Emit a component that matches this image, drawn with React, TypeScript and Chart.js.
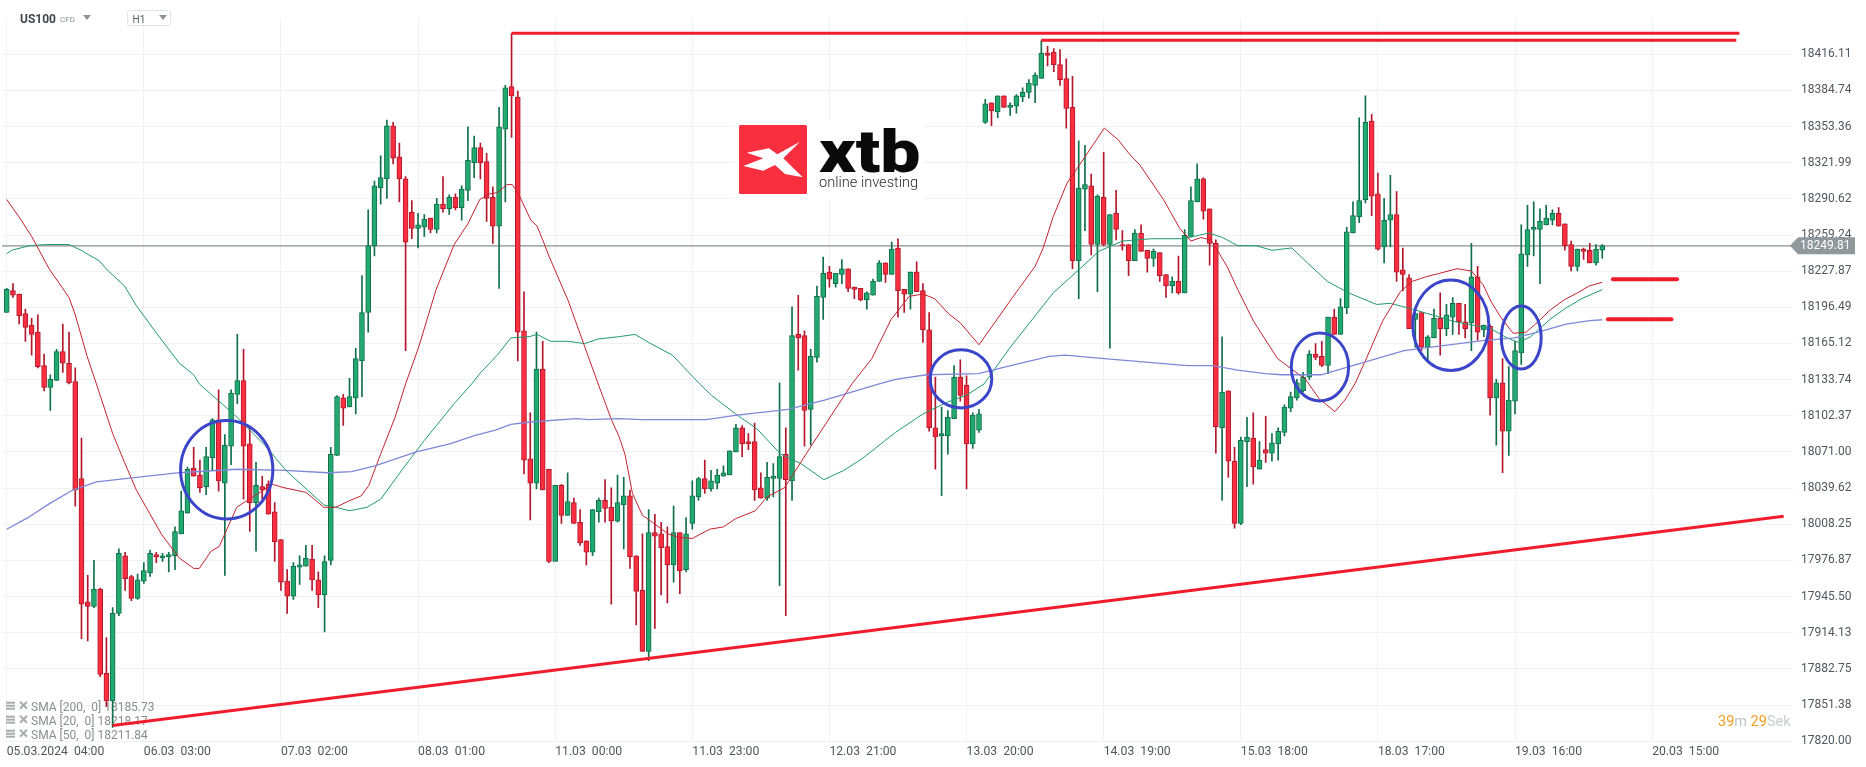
import React, { useEffect, useRef } from "react";
import { Chart, registerables } from "chart.js";

Chart.register(...registerables);

const opens = [18192,18211,18208,18191,18181,18175,18146,18127,18133,18158,18148,18132,18048,17941,17937,17952,17879,17855,17931,17981,17963,17944,17959,17966,17982,17979,17980,17981,18000,18018,18057,18051,18041,18066,18099,18044,18076,18121,18133,18078,18027,18041,18043,18019,17995,17959,17946,17971,17972,17978,17960,17947,17977,18068,18118,18110,18118,18150,18192,18250,18300,18308,18354,18327,18308,18279,18265,18266,18274,18264,18286,18282,18292,18283,18298,18322,18335,18323,18292,18267,18351,18388,18379,18176,18065,18044,18143,18056,17976,18042,18016,18027,18010,17994,17984,18019,18029,18023,18011,18025,18033,17981,17951,17898,18001,18000,17989,17973,18001,17969,18009,18032,18048,18039,18044,18050,18051,18071,18092,18080,18080,18040,18031,18048,18048,18069,18046,18173,18172,18108,18153,18205,18227,18217,18225,18230,18214,18213,18203,18207,18219,18235,18225,18248,18212,18208,18227,18211,18177,18092,18085,18085,18100,18136,18129,18078,18090,18357,18374,18366,18380,18370,18371,18379,18383,18389,18395,18417,18418,18407,18395,18370,18237,18299,18302,18251,18292,18251,18278,18251,18251,18237,18261,18246,18239,18244,18225,18215,18219,18209,18258,18288,18308,18282,18252,18092,18124,18063,18009,18080,18083,18056,18073,18070,18078,18088,18109,18118,18124,18136,18156,18154,18146,18188,18173,18196,18261,18275,18290,18358,18295,18249,18272,18277,18229,18222,18186,18192,18162,18170,18187,18178,18188,18200,18184,18183,18223,18177,18180,18118,18131,18089,18115,18157,18242,18264,18264,18268,18272,18278,18269,18251,18232,18247,18246,18235,18246];
const highs = [18213,18217,18208,18195,18187,18190,18156,18138,18160,18182,18175,18144,18083,17964,17977,17953,17910,17936,17987,17984,17964,17965,17975,17986,17984,17983,17984,18006,18037,18058,18075,18064,18075,18100,18125,18086,18125,18173,18160,18092,18062,18050,18046,18027,17995,17969,17975,17981,17990,17990,17967,17981,18075,18120,18121,18135,18161,18224,18281,18306,18328,18359,18357,18339,18310,18289,18278,18277,18274,18291,18310,18294,18295,18302,18353,18345,18339,18330,18301,18370,18389,18434,18384,18210,18105,18175,18167,18056,17976,18043,18053,18031,18021,17994,18021,18031,18047,18040,18051,18049,18038,17981,18000,18021,18017,18010,18006,18024,18001,18014,18046,18049,18064,18055,18056,18059,18072,18095,18094,18087,18096,18053,18062,18061,18131,18092,18197,18207,18176,18160,18215,18240,18232,18226,18238,18230,18214,18213,18210,18221,18237,18235,18253,18256,18212,18227,18236,18217,18192,18136,18110,18107,18146,18151,18137,18105,18108,18377,18374,18380,18380,18374,18381,18387,18394,18400,18428,18423,18421,18420,18412,18397,18341,18337,18312,18294,18331,18277,18298,18263,18251,18264,18268,18246,18247,18244,18225,18223,18241,18264,18301,18321,18309,18282,18255,18171,18124,18075,18084,18101,18105,18080,18102,18087,18092,18112,18123,18134,18140,18159,18165,18167,18188,18195,18204,18266,18288,18361,18380,18364,18313,18291,18311,18297,18248,18225,18192,18192,18172,18195,18209,18199,18205,18200,18199,18252,18232,18181,18181,18134,18152,18145,18167,18268,18285,18288,18282,18285,18281,18283,18269,18254,18247,18248,18252,18251,18251];
const lows = [18192,18205,18182,18167,18155,18144,18124,18107,18133,18140,18130,18024,17909,17907,17936,17876,17850,17832,17929,17951,17942,17943,17957,17963,17975,17976,17967,17969,18000,18018,18050,18036,18034,18055,18037,17964,18060,18113,18030,18002,17985,18030,18017,17976,17951,17931,17943,17956,17972,17951,17936,17915,17973,18068,18094,18110,18104,18119,18175,18241,18286,18291,18321,18288,18159,18256,18248,18258,18261,18261,18279,18277,18281,18272,18289,18309,18308,18271,18252,18213,18288,18344,18150,18052,18012,18039,18038,17975,17976,18009,18016,18009,17990,17973,17981,18010,18010,17939,18010,17987,17970,17921,17898,17890,17918,17947,17940,17958,17948,17967,18004,18029,18035,18037,18039,18050,18051,18071,18067,18073,18029,18031,18029,18032,17955,17929,18029,18142,18076,18077,18149,18186,18214,18214,18217,18210,18204,18202,18195,18207,18219,18218,18225,18188,18192,18195,18210,18166,18089,18056,18033,18069,18100,18115,18039,18074,18088,18356,18354,18361,18370,18363,18365,18375,18378,18374,18395,18406,18401,18389,18352,18230,18204,18263,18242,18210,18250,18161,18255,18246,18224,18237,18245,18227,18232,18219,18205,18209,18208,18209,18258,18288,18273,18233,18070,18029,18049,18005,18008,18041,18043,18056,18062,18063,18064,18085,18106,18116,18123,18134,18151,18145,18139,18173,18173,18191,18261,18270,18287,18276,18246,18235,18249,18219,18211,18178,18162,18159,18151,18170,18155,18172,18173,18173,18170,18159,18168,18171,18103,18077,18053,18068,18104,18147,18232,18241,18217,18268,18268,18267,18246,18228,18228,18238,18235,18233,18239];
const closes = [18212,18207,18189,18179,18173,18145,18127,18134,18158,18148,18131,18038,17939,17937,17952,17878,17855,17931,17983,17961,17944,17960,17968,17983,17980,17981,17982,18002,18020,18056,18050,18040,18067,18099,18046,18077,18122,18133,18076,18027,18042,18038,18017,17993,17958,17946,17972,17973,17979,17960,17947,17976,18069,18119,18109,18119,18152,18192,18250,18302,18309,18354,18326,18308,18253,18265,18268,18273,18264,18286,18282,18292,18283,18299,18324,18335,18322,18291,18267,18353,18387,18380,18175,18064,18044,18143,18038,17976,18042,18016,18028,18009,17992,17984,18021,18029,18022,18011,18027,18033,17980,17950,17898,18001,17998,17988,17973,18001,17968,18000,18033,18048,18039,18046,18051,18053,18072,18092,18078,18078,18038,18031,18049,18050,18067,18047,18172,18170,18107,18154,18206,18226,18221,18226,18230,18213,18212,18203,18209,18219,18235,18225,18247,18211,18208,18227,18210,18177,18092,18084,18087,18101,18136,18120,18078,18103,18104,18373,18367,18380,18370,18372,18380,18383,18391,18398,18417,18415,18407,18394,18369,18237,18300,18303,18251,18293,18251,18277,18264,18250,18237,18261,18245,18239,18245,18224,18215,18219,18209,18259,18289,18308,18280,18252,18093,18123,18063,18009,18081,18084,18058,18064,18070,18079,18089,18110,18119,18131,18136,18156,18153,18146,18188,18173,18197,18262,18276,18289,18357,18293,18247,18272,18277,18227,18225,18178,18191,18162,18171,18187,18178,18190,18200,18184,18178,18223,18175,18181,18118,18131,18089,18116,18159,18243,18264,18266,18271,18274,18278,18267,18250,18232,18247,18245,18235,18247,18250];

const sma20Index = [0,2.1,4,6.8,10,11,12.9,14.4,17,18.9,20.8,24.9,27.7,30,30.9,32.8,34.1,36.9,39.5,42.6,44.5,48,50.9,52.8,54.7,56.9,58.1,59.7,62.3,64,66.1,68.9,71.8,74,75.9,77.5,78.7,80.3,81.1,82.2,84.1,85.1,86,87,90.1,93.3,94.9,97.1,98.2,99.2,100.4,102,103.6,106.1,107.7,110,112.8,115,116.9,120.1,122,124.8,126.1,129.3,135.6,138.8,141.9,144.8,147,148.9,151.1,153,156,161.9,165,166.3,167.9,170.1,173,176.1,178.3,180.2,181.8,185.6,188.2,190,191.6,193.2,195.8,197.5,200.1,203.9,208.4,210.6,213.1,214.7,216.3,217.9,220.7,223.6,225.5,227.7,229.9,232.7,235,236.9,238.1,239.7,241.7,243.8,245.7,247.6,249.9,252,253.9,256];
const sma20Values = [18290,18274,18258,18230,18205,18190,18154,18130,18087,18062,18038,17999,17979,17970,17970,17985,17989,18023,18032,18043,18040,18036,18023,18023,18028,18033,18042,18065,18101,18130,18162,18212,18251,18269,18290,18295,18296,18303,18303,18294,18272,18267,18255,18241,18202,18154,18130,18098,18085,18069,18035,18016,18010,18000,17997,17996,18004,18006,18013,18020,18032,18040,18051,18078,18130,18152,18186,18206,18208,18204,18191,18183,18164,18209,18232,18248,18275,18304,18327,18352,18342,18329,18320,18290,18265,18254,18257,18255,18232,18212,18184,18152,18134,18117,18106,18116,18130,18149,18184,18210,18219,18223,18226,18230,18228,18216,18202,18188,18174,18175,18184,18194,18203,18209,18215,18218.17];

const sma50Index = [0,0.8,3.7,6.5,10,11.9,14.8,16.3,18.9,20.8,23.9,27.7,30,30.9,36.6,41.4,44.8,50.9,52.8,55,57.8,60,63.5,67,71.8,74.6,75.9,78.7,80.9,83.8,85.1,87.3,90.1,92.7,94.9,98.2,100.8,103,106.8,111.2,113.1,117.2,120.4,124.2,127.4,131.1,134.3,137.2,142.6,147,150.8,153.9,156.8,160.9,164.7,167.9,172,175.2,179,183.7,188.8,192.9,195.1,197.5,200.4,203,206.2,208.7,211.9,215.3,219.8,222,225.5,232.4,238.1,240.7,242.6,244.5,247.6,250.2,252.7,256];
const sma50Values = [18243,18246,18250,18251,18251,18246,18237,18228,18215,18198,18175,18148,18138,18130,18103,18077,18055,18025,18023,18020,18023,18030,18056,18081,18113,18130,18139,18155,18170,18171,18173,18167,18167,18165,18169,18171,18173,18166,18155,18130,18120,18103,18091,18069,18061,18047,18055,18065,18088,18104,18114,18120,18130,18161,18187,18209,18229,18245,18254,18256,18256,18261,18257,18250,18250,18246,18248,18235,18219,18209,18199,18200,18195,18184,18178,18170,18166,18171,18186,18196,18204,18211.84];

const sma200Index = [0,3.4,6.8,10.6,14.4,20.8,27.7,36.9,44.6,51.5,55.3,59.1,65.7,71.1,74.9,78.4,80.9,84,91.4,93.3,98.2,102,112.2,117.2,125.4,131.2,140,142.6,147.6,155.9,161.9,167.3,169.8,176.1,189.4,193.5,197.5,202,204.6,210.9,214.7,219.1,224.2,233,237.5,241.9,245.7,250.2,254,256];
const sma200Values = [18004,18014,18026,18038,18045,18049,18053,18056,18055,18053,18054,18059,18071,18078,18085,18090,18095,18097,18100,18099,18100,18099,18099,18103,18108,18116,18130,18134,18138,18139,18147,18154,18155,18152,18146,18146,18142,18139,18138,18138,18144,18151,18159,18165,18168,18170,18175,18182,18185,18185.73];

const xTickIndex = [0,22,44,66,88,110,132,154,176,198,220,242,264];
const xTickLabels = ["05.03.2024  04:00","06.03  03:00","07.03  02:00","08.03  01:00","11.03  00:00","11.03  23:00","12.03  21:00","13.03  20:00","14.03  19:00","15.03  18:00","18.03  17:00","19.03  16:00","20.03  15:00"];
const yTicks = [18416.11,18384.74,18353.36,18321.99,18290.62,18259.24,18227.87,18196.49,18165.12,18133.74,18102.37,18071.00,18039.62,18008.25,17976.87,17945.50,17914.13,17882.75,17851.38,17820.00];

const lastPrice = 18249.81;
const legendRows = ["SMA [200,  0] 18185.73","SMA [20,  0] 18218.17","SMA [50,  0] 18211.84"];
const resistanceA = [{ x: 81, y: 18434.3 }, { x: 278, y: 18434.3 }];
const resistanceB = [{ x: 166, y: 18428.3 }, { x: 277.5, y: 18428.3 }];
const supportTrend = [{ x: 17, y: 17833.7 }, { x: 285.1, y: 18015.3 }];
const stubA = [{ x: 257.7, y: 18220.9 }, { x: 268, y: 18220.9 }];
const stubB = [{ x: 256.9, y: 18186.2 }, { x: 267.1, y: 18186.2 }];
const circles = [
  { i: 35.3, p: 18055.6, ri: 7.4, rp: 42.7 },
  { i: 153.1, p: 18134.4, ri: 4.95, rp: 25.2 },
  { i: 210.7, p: 18144.8, ri: 4.6, rp: 29.5 },
  { i: 231.7, p: 18181, ri: 6.1, rp: 39.3 },
  { i: 243, p: 18170.3, ri: 3.2, rp: 27.4 },
];

const X_MIN = -0.754;
const X_MAX = 286.6;
const Y_MIN = 17820;
const Y_MAX = 18447.5;

const UP = "#22a96f";
const UP_EDGE = "#0f6f4b";
const DOWN = "#f92f40";
const DOWN_EDGE = "#b3172b";
const FONT = "Roboto";

const pairs = (xs: number[], ys: number[]) => xs.map((x, k) => ({ x, y: ys[k] }));

const overlay = {
  id: "overlay",
  beforeDatasetsDraw(chart: any) {
    const c = chart.ctx;
    c.save();
    c.fillStyle = "#ffffff";
    c.fillRect(734, 121, 190, 78);
    c.fillStyle = "#f92f40";
    c.beginPath();
    c.roundRect(739, 125, 68, 69, 1.5);
    c.fill();
    c.fillStyle = "#ffffff";
    c.beginPath();
    const shape = [[746.7,152.7],[769,148.3],[777.3,154.3],[800,141.7],[783.3,158.3],[802.7,177.3],[785,174],[775,165],[763.3,170.7],[743.3,166],[763.3,158.3]];
    shape.forEach(([x, y], k) => (k ? c.lineTo(x, y) : c.moveTo(x, y)));
    c.closePath();
    c.fill();
    c.fillStyle = "#0a0a0a";
    c.textBaseline = "alphabetic";
    c.textAlign = "left";
    c.save();
    c.translate(819, 171.5);
    c.scale(1.19, 1);
    c.font = `900 60px ${FONT}`;
    c.fillText("xtb", 0, 0);
    c.restore();
    c.fillStyle = "#2b2b2b";
    c.font = `300 14.6px ${FONT}`;
    c.textBaseline = "middle";
    c.fillText("online investing", 819, 183.5);

    c.font = `12px ${FONT}`;
    c.textBaseline = "middle";
    legendRows.forEach((t, k) => {
      const y = 707.7 + k * 14;
      c.fillStyle = "#8a8d90";
      c.fillText(t, 31, y);
      c.fillStyle = "#a9acae";
      c.fillRect(6, y - 6, 9, 2);
      c.fillRect(6, y - 3, 9, 2);
      c.fillRect(6, y, 9, 2);
      c.strokeStyle = "#a9acae";
      c.lineWidth = 2;
      c.beginPath();
      c.moveTo(20, y - 6);
      c.lineTo(27, y + 1);
      c.moveTo(27, y - 6);
      c.lineTo(20, y + 1);
      c.stroke();
    });

    c.font = `14.5px ${FONT}`;
    let x = 1718;
    [["39", "#f59d1e"], ["m ", "#bfc3c6"], ["29", "#f59d1e"], ["Sek", "#c9ccce"]].forEach(([t, col]) => {
      c.fillStyle = col;
      c.fillText(t, x, 722);
      x += c.measureText(t).width;
    });

    c.fillStyle = "#3f464b";
    c.font = `bold 12px ${FONT}`;
    c.fillText("US100", 20, 19.5);
    c.fillStyle = "#8a8f93";
    c.font = `8px ${FONT}`;
    c.fillText("CFD", 60, 19.5);
    c.fillStyle = "#8f9497";
    c.beginPath();
    c.moveTo(83, 15);
    c.lineTo(91, 15);
    c.lineTo(87, 20);
    c.closePath();
    c.fill();
    c.strokeStyle = "#e2e4e6";
    c.lineWidth = 1;
    c.beginPath();
    c.roundRect(127.5, 10.5, 43, 15, 2);
    c.stroke();
    c.fillStyle = "#5a6166";
    c.font = `10px ${FONT}`;
    c.fillText("H1", 132.5, 20);
    c.fillStyle = "#8f9497";
    c.beginPath();
    c.moveTo(159, 15);
    c.lineTo(167, 15);
    c.lineTo(163, 20);
    c.closePath();
    c.fill();
    c.restore();
  },
  afterDatasetsDraw(chart: any) {
    const c = chart.ctx;
    const xs = chart.scales.x;
    const ys = chart.scales.y;
    c.save();
    c.strokeStyle = "#3a45c9";
    c.lineWidth = 3;
    circles.forEach(({ i, p, ri, rp }) => {
      const cx = xs.getPixelForValue(i);
      const cy = ys.getPixelForValue(p);
      const rx = Math.abs(xs.getPixelForValue(i + ri) - cx);
      const ry = Math.abs(ys.getPixelForValue(p + rp) - cy);
      c.beginPath();
      c.ellipse(cx, cy, rx, ry, 0, 0, Math.PI * 2);
      c.stroke();
    });
    c.restore();
  },
  afterDraw(chart: any) {
    const c = chart.ctx;
    const y = chart.scales.y.getPixelForValue(lastPrice);
    c.save();
    c.fillStyle = "#8f989b";
    c.beginPath();
    c.moveTo(1790, y);
    c.lineTo(1798, y - 8.5);
    c.lineTo(1855, y - 8.5);
    c.lineTo(1855, y + 8.5);
    c.lineTo(1798, y + 8.5);
    c.closePath();
    c.fill();
    c.fillStyle = "#ffffff";
    c.font = `12px ${FONT}`;
    c.textBaseline = "middle";
    c.textAlign = "left";
    c.fillText(lastPrice.toFixed(2), 1800, y + 0.5);
    c.restore();
  },
};

export default function App() {
  const ref = useRef<HTMLCanvasElement | null>(null);
  useEffect(() => {
    const idx = opens.map((_, i) => i);
    const isUp = (i: number) => closes[i] >= opens[i];
    const lineBase = { type: "line" as const, pointRadius: 0, pointHoverRadius: 0, fill: false, tension: 0 };
    const chart = new Chart(ref.current as HTMLCanvasElement, {
      type: "bar",
      data: {
        datasets: [
          { ...lineBase, label: "SMA 200", data: pairs(sma200Index, sma200Values), borderColor: "#7f88d8", borderWidth: 1.3, order: 2 },
          { ...lineBase, label: "SMA 20", data: pairs(sma20Index, sma20Values), borderColor: "#c4222d", borderWidth: 1, order: 2 },
          { ...lineBase, label: "SMA 50", data: pairs(sma50Index, sma50Values), borderColor: "#1f9a6d", borderWidth: 1, order: 2 },
          { ...lineBase, label: "Price", data: [{ x: X_MIN, y: lastPrice }, { x: X_MAX, y: lastPrice }], borderColor: "#87918f", borderWidth: 1.2, order: 5 },
          { ...lineBase, label: "R1", data: resistanceA, borderColor: "#f01c2c", borderWidth: 3, order: 1 },
          { ...lineBase, label: "R2", data: resistanceB, borderColor: "#f01c2c", borderWidth: 3, order: 1 },
          { ...lineBase, label: "Trend", data: supportTrend, borderColor: "#f01c2c", borderWidth: 3, order: 1 },
          { ...lineBase, label: "S1", data: stubA, borderColor: "#f01c2c", borderWidth: 4, borderCapStyle: "round", order: 1 },
          { ...lineBase, label: "S2", data: stubB, borderColor: "#f01c2c", borderWidth: 4, borderCapStyle: "round", order: 1 },
          {
            type: "bar",
            label: "Body",
            data: idx.map((i) => ({ x: i, y: [opens[i], closes[i]] })),
            backgroundColor: idx.map((i) => (isUp(i) ? UP : DOWN)),
            borderColor: idx.map((i) => (isUp(i) ? UP_EDGE : DOWN_EDGE)),
            borderWidth: 1,
            borderSkipped: false,
            barThickness: 5,
            grouped: false,
            order: 3,
          },
          {
            type: "bar",
            label: "Wick",
            data: idx.map((i) => ({ x: i, y: [lows[i], highs[i]] })),
            backgroundColor: idx.map((i) => (isUp(i) ? UP_EDGE : DOWN_EDGE)),
            borderWidth: 0,
            barThickness: 1,
            grouped: false,
            order: 4,
          },
        ] as any,
      },
      options: {
        animation: false,
        responsive: false,
        devicePixelRatio: 1,
        events: [],
        layout: { padding: { left: 2, top: 18, right: 0, bottom: 0 } },
        plugins: { legend: { display: false }, tooltip: { enabled: false } },
        scales: {
          x: {
            type: "linear",
            position: "bottom",
            offset: false,
            min: X_MIN,
            max: X_MAX,
            afterBuildTicks: (s: any) => {
              s.ticks = xTickIndex.map((value) => ({ value }));
            },
            afterFit: (s: any) => {
              s.height = 25.7;
              s.paddingLeft = 0;
              s.paddingRight = 0;
              s.paddingTop = 0;
              s.paddingBottom = 0;
            },
            grid: { color: "#f0f1f2", lineWidth: 1, drawTicks: false, offset: false },
            border: { display: false },
            ticks: {
              autoSkip: false,
              maxRotation: 0,
              align: "start",
              padding: 3,
              color: "#50585e",
              font: { family: FONT, size: 12.2 },
              callback: (v: any) => xTickLabels[xTickIndex.indexOf(v)] ?? "",
            },
          },
          y: {
            type: "linear",
            position: "right",
            min: Y_MIN,
            max: Y_MAX,
            afterBuildTicks: (s: any) => {
              s.ticks = yTicks.map((value) => ({ value }));
            },
            afterFit: (s: any) => {
              s.width = 73;
              s.paddingLeft = 0;
              s.paddingRight = 0;
              s.paddingTop = 0;
              s.paddingBottom = 0;
            },
            grid: { color: "#f0f1f2", lineWidth: 1, drawTicks: false },
            border: { display: false },
            ticks: {
              autoSkip: false,
              padding: 8,
              crossAlign: "near",
              color: "#50585e",
              font: { family: FONT, size: 12 },
              callback: (v: any) => Number(v).toFixed(2),
            },
          },
        },
      } as any,
      plugins: [overlay],
    });
    return () => chart.destroy();
  }, []);
  return (
    <div style={{ position: "fixed", left: 0, top: 0, width: 1866, height: 767, background: "#fff" }}>
      <canvas ref={ref} width={1866} height={767} style={{ display: "block", width: 1866, height: 767 }} />
    </div>
  );
}
